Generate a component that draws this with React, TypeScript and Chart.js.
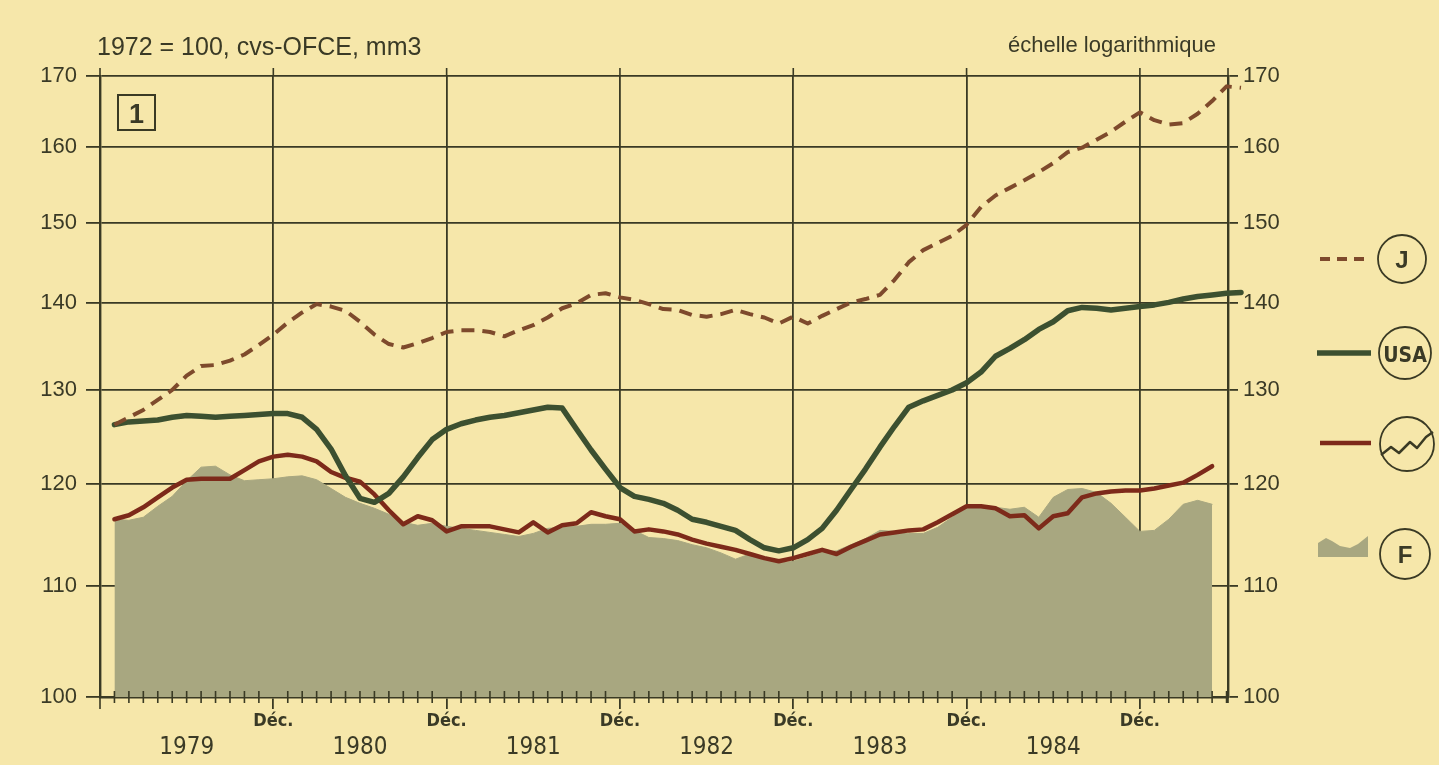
import React, { useEffect, useRef } from 'react';
import { Chart, registerables } from 'chart.js';

Chart.register(...registerables);

// ---- data (month index: 0 = Jan 1979) ----
const monthIndex = [
  0, 1, 2, 3, 4, 5, 6, 7, 8, 9, 10, 11, 12, 13, 14, 15, 16, 17, 18, 19,
  20, 21, 22, 23, 24, 25, 26, 27, 28, 29, 30, 31, 32, 33, 34, 35, 36, 37, 38, 39,
  40, 41, 42, 43, 44, 45, 46, 47, 48, 49, 50, 51, 52, 53, 54, 55, 56, 57, 58, 59,
  60, 61, 62, 63, 64, 65, 66, 67, 68, 69, 70, 71, 72, 73, 74, 75, 76, 77, 78,
];

const japan = [
  126.2, 127.0, 127.8, 128.9, 130.0, 131.6, 132.7, 132.8, 133.3, 134.0, 135.1, 136.3, 137.7, 138.9, 139.9, 139.6, 139.1, 137.8, 136.3, 135.2,
  134.8, 135.3, 135.9, 136.6, 136.8, 136.8, 136.6, 136.1, 136.8, 137.4, 138.3, 139.4, 140.0, 141.0, 141.2, 140.7, 140.4, 139.9, 139.3, 139.2,
  138.6, 138.4, 138.7, 139.2, 138.7, 138.3, 137.6, 138.4, 137.6, 138.5, 139.3, 140.1, 140.5, 141.0, 142.8, 145.0, 146.5, 147.4, 148.3, 149.7,
  152.0, 153.5, 154.5, 155.5, 156.6, 157.8, 159.3, 159.9, 161.0, 162.1, 163.5, 164.8, 163.7, 163.1, 163.3, 164.6, 166.4, 168.5, 168.3,
];

const usa = [
  126.2, 126.5, 126.6, 126.7, 127.0, 127.2, 127.1, 127.0, 127.1, 127.2, 127.3, 127.4, 127.4, 127.0, 125.7, 123.6, 120.8, 118.5, 118.1, 119.0,
  120.7, 122.7, 124.6, 125.7, 126.3, 126.7, 127.0, 127.2, 127.5, 127.8, 128.1, 128.0, 125.7, 123.5, 121.5, 119.6, 118.7, 118.4, 118.0, 117.3,
  116.4, 116.1, 115.7, 115.3, 114.4, 113.6, 113.3, 113.6, 114.4, 115.5, 117.3, 119.4, 121.5, 123.8, 126.0, 128.1, 128.8, 129.4, 130.0, 130.8,
  132.0, 133.8, 134.7, 135.7, 136.9, 137.8, 139.1, 139.5, 139.4, 139.2, 139.4, 139.6, 139.8, 140.1, 140.5, 140.8, 141.0, 141.2, 141.3,
];

const europe = [
  116.4, 116.8, 117.6, 118.6, 119.6, 120.4, 120.5, 120.5, 120.5, 121.4, 122.3, 122.8, 123.0, 122.8, 122.3, 121.2, 120.6, 120.2, 118.9, 117.3,
  115.9, 116.7, 116.3, 115.2, 115.7, 115.7, 115.7, 115.4, 115.1, 116.1, 115.1, 115.8, 116.0, 117.1, 116.7, 116.4, 115.2, 115.4, 115.2, 114.9,
  114.4, 114.0, 113.7, 113.4, 113.0, 112.6, 112.3, 112.6, 113.0, 113.4, 113.0, 113.7, 114.3, 114.9, 115.1, 115.3, 115.4, 116.1, 116.9, 117.7,
  117.7, 117.5, 116.7, 116.8, 115.5, 116.7, 117.0, 118.6, 119.0, 119.2, 119.3, 119.3, 119.5, 119.8, 120.1, 120.9, 121.8,
];

const france = [
  116.4, 116.3, 116.6, 117.7, 118.7, 120.3, 121.7, 121.8, 120.9, 120.3, 120.4, 120.5, 120.7, 120.8, 120.4, 119.5, 118.6, 118.0, 117.5, 116.9,
  116.1, 115.8, 116.0, 115.7, 115.5, 115.3, 115.1, 114.9, 114.7, 115.0, 115.5, 115.6, 115.7, 115.9, 115.9, 116.0, 115.3, 114.6, 114.5, 114.3,
  113.9, 113.6, 113.1, 112.5, 113.0, 112.5, 112.1, 112.3, 112.7, 113.2, 113.3, 113.9, 114.5, 115.3, 115.2, 115.0, 115.0, 115.6, 116.6, 117.7,
  117.7, 117.6, 117.4, 117.6, 116.6, 118.6, 119.4, 119.5, 119.1, 118.0, 116.6, 115.2, 115.3, 116.4, 117.9, 118.3, 117.9,
];

const decMonths = [11, 23, 35, 47, 59, 71];
const decLabel = 'Déc.';
const yearCenters = [5, 17, 29, 41, 53, 65];
const yearLabels = ['1979', '1980', '1981', '1982', '1983', '1984'];
const yTicks = [100, 110, 120, 130, 140, 150, 160, 170];
const minorTickMonths = [
  -1, 0, 1, 2, 3, 4, 5, 6, 7, 8, 9, 10, 12, 13, 14, 15, 16, 17, 18, 19, 20, 21, 22,
  24, 25, 26, 27, 28, 29, 30, 31, 32, 33, 34, 36, 37, 38, 39, 40, 41, 42, 43, 44, 45, 46,
  48, 49, 50, 51, 52, 53, 54, 55, 56, 57, 58, 60, 61, 62, 63, 64, 65, 66, 67, 68, 69, 70,
  72, 73, 74, 75, 76, 77,
];

// ---- styles ----
const BG = '#f6e7aa';
const GRID = '#3a3a24';
const TEXT = '#3a3a26';
const J_COLOR = '#7e4a2c';
const USA_COLOR = '#3c5030';
const RED_COLOR = '#7d2a1a';
const F_COLOR = '#a8a780';
const SANS = "'Liberation Sans', Arial, Helvetica, sans-serif";
const NARROW = "'Liberation Sans Narrow', 'DejaVu Sans Condensed', 'Liberation Sans', sans-serif";

const toPoints = (vals: number[]) => vals.map((v, i) => ({ x: monthIndex[i], y: v }));

const axisDecor = {
  id: 'axisDecor',
  afterDraw(chart: any) {
    const { ctx, chartArea, scales } = chart;
    const x = scales.x;
    ctx.save();
    ctx.strokeStyle = GRID;
    ctx.lineWidth = 1.6;
    ctx.beginPath();
    minorTickMonths.forEach((m) => {
      const px = x.getPixelForValue(m);
      ctx.moveTo(px, chartArea.bottom - 6);
      ctx.lineTo(px, chartArea.bottom + 6);
    });
    decMonths.forEach((m) => {
      const px = x.getPixelForValue(m);
      ctx.moveTo(px, chartArea.top - 8);
      ctx.lineTo(px, chartArea.top);
    });
    ctx.moveTo(chartArea.left, chartArea.top - 8);
    ctx.lineTo(chartArea.left, chartArea.top);
    ctx.moveTo(chartArea.right, chartArea.top - 8);
    ctx.lineTo(chartArea.right, chartArea.top);
    ctx.moveTo(chartArea.left, chartArea.bottom);
    ctx.lineTo(chartArea.left, chartArea.bottom + 12);
    ctx.moveTo(chartArea.right, chartArea.bottom);
    ctx.lineTo(chartArea.right, chartArea.bottom + 6);
    ctx.stroke();
    ctx.restore();
  },
};

export default function App() {
  const canvasRef = useRef<HTMLCanvasElement | null>(null);

  useEffect(() => {
    if (!canvasRef.current) return;
    const chart = new Chart(canvasRef.current, {
      type: 'line',
      data: {
        datasets: [
          {
            label: 'J',
            data: toPoints(japan),
            borderColor: J_COLOR,
            borderWidth: 4,
            borderDash: [13, 8],
            borderCapStyle: 'butt',
            pointRadius: 0,
            fill: false,
            clip: false,
          },
          {
            label: 'USA',
            data: toPoints(usa),
            borderColor: USA_COLOR,
            borderWidth: 5.5,
            pointRadius: 0,
            fill: false,
            clip: false,
          },
          {
            label: 'Europe',
            data: toPoints(europe),
            borderColor: RED_COLOR,
            borderWidth: 4.5,
            pointRadius: 0,
            fill: false,
          },
          {
            label: 'F',
            data: toPoints(france),
            borderColor: F_COLOR,
            borderWidth: 1,
            backgroundColor: F_COLOR,
            pointRadius: 0,
            fill: 'start',
          },
        ],
      } as any,
      options: {
        responsive: false,
        animation: false,
        events: [],
        layout: { padding: { top: 76, left: 0, right: 0, bottom: 0 } },
        plugins: { legend: { display: false }, tooltip: { enabled: false } },
        elements: { line: { tension: 0, borderJoinStyle: 'round', borderCapStyle: 'round' } },
        scales: {
          x: {
            type: 'linear',
            position: 'bottom',
            min: -1,
            max: 77.1,
            afterBuildTicks: (s: any) => {
              s.ticks = decMonths.map((v) => ({ value: v }));
            },
            afterFit: (s: any) => {
              s.height = 34;
            },
            grid: { color: GRID, lineWidth: 1.8, drawTicks: true, tickLength: 12, tickWidth: 1.8, tickColor: GRID },
            border: { display: true, color: GRID, width: 2.4 },
            ticks: {
              callback: () => decLabel,
              font: { family: NARROW, size: 18, weight: 'bold' },
              color: TEXT,
              padding: 2,
              maxRotation: 0,
              autoSkip: false,
            },
          },
          x2: {
            type: 'linear',
            position: 'bottom',
            min: -1,
            max: 77.1,
            afterBuildTicks: (s: any) => {
              s.ticks = yearCenters.map((v) => ({ value: v }));
            },
            afterFit: (s: any) => {
              s.height = 34;
            },
            grid: { display: false, drawTicks: false },
            border: { display: false },
            ticks: {
              callback: (_v: any, i: number) => yearLabels[i],
              font: { family: NARROW, size: 24 },
              color: TEXT,
              padding: 2,
              maxRotation: 0,
              autoSkip: false,
            },
          },
          y: {
            type: 'logarithmic',
            position: 'left',
            min: 100,
            max: 170,
            afterBuildTicks: (s: any) => {
              s.ticks = yTicks.map((v) => ({ value: v }));
            },
            afterFit: (s: any) => {
              s.width = 100;
            },
            grid: { color: GRID, lineWidth: 1.8, tickLength: 14, tickColor: GRID },
            border: { display: true, color: GRID, width: 2.4 },
            ticks: {
              callback: (v: any) => String(v),
              font: { family: SANS, size: 22 },
              color: TEXT,
              padding: 9,
              autoSkip: false,
            },
          },
          y2: {
            type: 'logarithmic',
            position: 'right',
            min: 100,
            max: 170,
            afterBuildTicks: (s: any) => {
              s.ticks = yTicks.map((v) => ({ value: v }));
            },
            afterFit: (s: any) => {
              s.width = 211;
            },
            grid: { drawOnChartArea: false, color: GRID, lineWidth: 1.8, tickLength: 10, tickColor: GRID },
            border: { display: true, color: GRID, width: 2.4 },
            ticks: {
              callback: (v: any) => String(v),
              font: { family: SANS, size: 22 },
              color: TEXT,
              padding: 5,
              autoSkip: false,
            },
          },
        },
      } as any,
      plugins: [axisDecor],
    });
    return () => chart.destroy();
  }, []);

  return (
    <div style={{ position: 'fixed', left: 0, top: 0, width: 1439, height: 765, background: BG, overflow: 'hidden' }}>
      <canvas ref={canvasRef} width={1439} height={765} style={{ position: 'absolute', left: 0, top: 0, display: 'block' }} />
      <svg width={1439} height={765} style={{ position: 'absolute', left: 0, top: 0, pointerEvents: 'none' }}>
        <text x={97} y={55} fontFamily={SANS} fontSize={25} fill={TEXT}>1972 = 100, cvs-OFCE, mm3</text>
        <text x={1008} y={52} fontFamily={SANS} fontSize={22} fill={TEXT}>échelle logarithmique</text>
        <rect x={118} y={95} width={37} height={35} fill="none" stroke={GRID} strokeWidth={2} />
        <text x={136.5} y={123} textAnchor="middle" fontFamily={SANS} fontWeight="bold" fontSize={27} fill={TEXT}>1</text>

        <line x1={1320} y1={259} x2={1370} y2={259} stroke={J_COLOR} strokeWidth={4} strokeDasharray="10 7" />
        <circle cx={1402} cy={259} r={24} fill="none" stroke={GRID} strokeWidth={1.8} />
        <text x={1402} y={268} textAnchor="middle" fontFamily={SANS} fontWeight="bold" fontSize={24} fill={TEXT}>J</text>

        <line x1={1317} y1={353} x2={1371} y2={353} stroke={USA_COLOR} strokeWidth={5.5} />
        <circle cx={1405} cy={353} r={26} fill="none" stroke={GRID} strokeWidth={1.8} />
        <text x={1405} y={361.5} textAnchor="middle" fontFamily={NARROW} fontWeight="bold" fontSize={21} fill={TEXT}>USA</text>

        <line x1={1320} y1={443} x2={1371} y2={443} stroke={RED_COLOR} strokeWidth={4.5} />
        <circle cx={1407} cy={444} r={27} fill="none" stroke={GRID} strokeWidth={1.8} />
        <polyline points="1381,455 1391,447 1399,453 1410,442 1417,448 1426,437 1433,432" fill="none" stroke={GRID} strokeWidth={2.5} strokeLinejoin="round" />

        <path d="M1318,557 L1318,543 L1326,538 L1332,541 L1340,546 L1350,548 L1358,544 L1368,536 L1368,557 Z" fill={F_COLOR} />
        <circle cx={1405} cy={554} r={25} fill="none" stroke={GRID} strokeWidth={1.8} />
        <text x={1405} y={563} textAnchor="middle" fontFamily={SANS} fontWeight="bold" fontSize={24} fill={TEXT}>F</text>
      </svg>
    </div>
  );
}
